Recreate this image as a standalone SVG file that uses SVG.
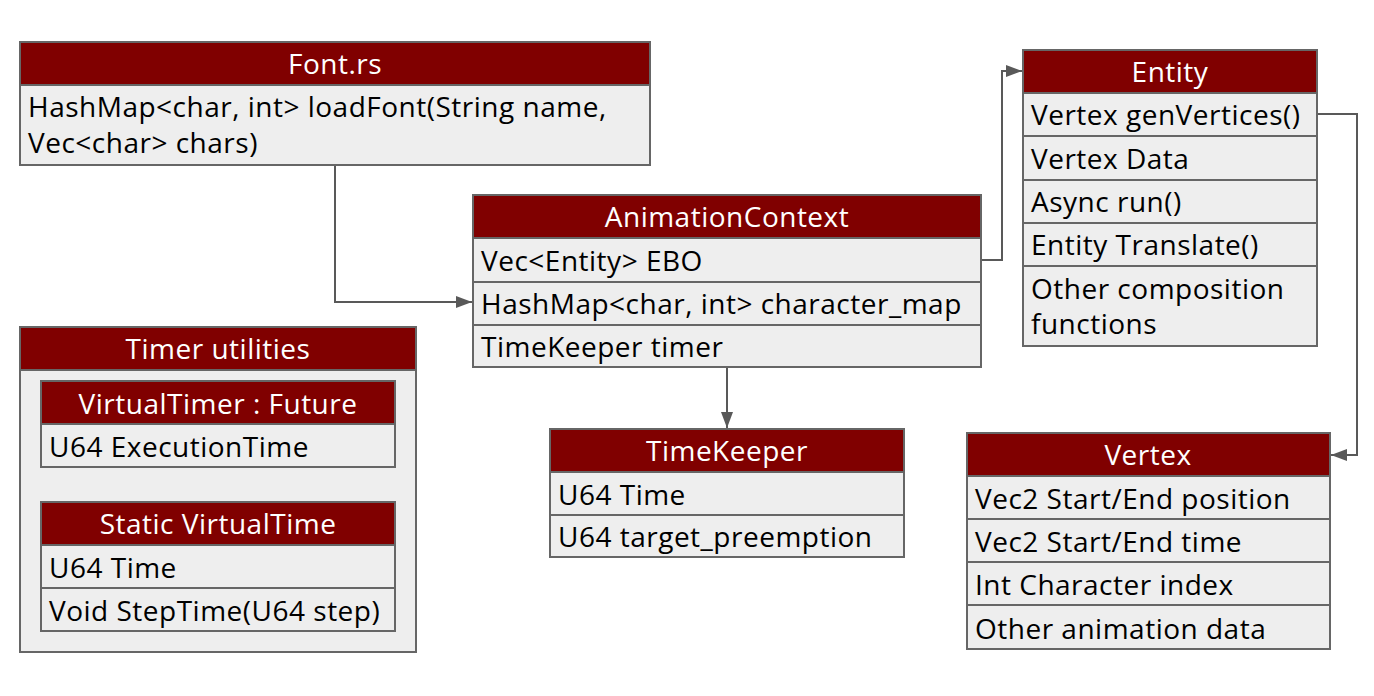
<svg xmlns="http://www.w3.org/2000/svg" width="1374" height="696" viewBox="0 0 1374 696">
<defs>
<style>
.hd{fill:#800000;stroke:#666;stroke-width:2}
.bd{fill:#eeeeee;stroke:#666;stroke-width:2}
.ht{font-family:"Open Sans","Liberation Sans",sans-serif;font-size:28px;letter-spacing:0.5px;fill:#ffffff;text-anchor:middle}
.bt{font-family:"Open Sans","Liberation Sans",sans-serif;font-size:28px;letter-spacing:0.5px;fill:#000000}
.cn{fill:none;stroke:#595959;stroke-width:2}
</style>
<marker id="ah" markerWidth="16" markerHeight="12" refX="16" refY="6" orient="auto" markerUnits="userSpaceOnUse">
<path d="M0,0 L16,6 L0,12 Z" fill="#595959"/>
</marker>
</defs>
<rect width="1374" height="696" fill="#ffffff"/>
<g id="connectors">
<path class="cn" d="M335,165 V302 H472" marker-end="url(#ah)"/>
<path class="cn" d="M981,260 H1002 V71 H1022" marker-end="url(#ah)"/>
<path class="cn" d="M1317,114 H1357 V455 H1331" marker-end="url(#ah)"/>
<path class="cn" d="M727,367 V428" marker-end="url(#ah)"/>
</g>
<g id="font-rs">
<rect class="bd" x="20" y="85" width="630" height="80"/>
<rect class="hd" x="20" y="42" width="630" height="43"/>
<text class="ht" x="335" y="74">Font.rs</text>
<text class="bt" x="28" y="117">HashMap&lt;char, int&gt; loadFont(String name,</text>
<text class="bt" x="28" y="153">Vec&lt;char&gt; chars)</text>
</g>
<g id="animation-context">
<rect class="hd" x="473" y="195" width="508" height="43"/>
<rect class="bd" x="473" y="238" width="508" height="44"/>
<rect class="bd" x="473" y="282" width="508" height="43"/>
<rect class="bd" x="473" y="325" width="508" height="42"/>
<text class="ht" x="727" y="227">AnimationContext</text>
<text class="bt" x="481" y="271">Vec&lt;Entity&gt; EBO</text>
<text class="bt" x="481" y="314">HashMap&lt;char, int&gt; character_map</text>
<text class="bt" x="481" y="357">TimeKeeper timer</text>
</g>
<g id="entity">
<rect class="hd" x="1023" y="50" width="294" height="43"/>
<rect class="bd" x="1023" y="93" width="294" height="43"/>
<rect class="bd" x="1023" y="136" width="294" height="44"/>
<rect class="bd" x="1023" y="180" width="294" height="43"/>
<rect class="bd" x="1023" y="223" width="294" height="43"/>
<rect class="bd" x="1023" y="266" width="294" height="80"/>
<text class="ht" x="1170" y="82">Entity</text>
<text class="bt" x="1031" y="125">Vertex genVertices()</text>
<text class="bt" x="1031" y="169">Vertex Data</text>
<text class="bt" x="1031" y="212">Async run()</text>
<text class="bt" x="1031" y="255">Entity Translate()</text>
<text class="bt" x="1031" y="299">Other composition</text>
<text class="bt" x="1031" y="334">functions</text>
</g>
<g id="timer-utilities">
<rect class="bd" x="20" y="327" width="396" height="325"/>
<rect class="hd" x="20" y="327" width="396" height="43"/>
<text class="ht" x="218" y="359">Timer utilities</text>
</g>
<g id="virtual-timer">
<rect class="hd" x="41" y="381" width="354" height="43"/>
<rect class="bd" x="41" y="424" width="354" height="43"/>
<text class="ht" x="218" y="414">VirtualTimer : Future</text>
<text class="bt" x="49" y="457">U64 ExecutionTime</text>
</g>
<g id="static-virtual-time">
<rect class="hd" x="41" y="502" width="354" height="43"/>
<rect class="bd" x="41" y="545" width="354" height="43"/>
<rect class="bd" x="41" y="588" width="354" height="43"/>
<text class="ht" x="218" y="534">Static VirtualTime</text>
<text class="bt" x="49" y="578">U64 Time</text>
<text class="bt" x="49" y="621">Void StepTime(U64 step)</text>
</g>
<g id="timekeeper">
<rect class="hd" x="550" y="429" width="354" height="43"/>
<rect class="bd" x="550" y="472" width="354" height="43"/>
<rect class="bd" x="550" y="515" width="354" height="42"/>
<text class="ht" x="727" y="461">TimeKeeper</text>
<text class="bt" x="558" y="505">U64 Time</text>
<text class="bt" x="558" y="547">U64 target_preemption</text>
</g>
<g id="vertex">
<rect class="hd" x="967" y="433" width="363" height="43"/>
<rect class="bd" x="967" y="476" width="363" height="43"/>
<rect class="bd" x="967" y="519" width="363" height="43"/>
<rect class="bd" x="967" y="562" width="363" height="43"/>
<rect class="bd" x="967" y="605" width="363" height="44"/>
<text class="ht" x="1148" y="465">Vertex</text>
<text class="bt" x="975" y="509">Vec2 Start/End position</text>
<text class="bt" x="975" y="552">Vec2 Start/End time</text>
<text class="bt" x="975" y="595">Int Character index</text>
<text class="bt" x="975" y="639">Other animation data</text>
</g>
</svg>
